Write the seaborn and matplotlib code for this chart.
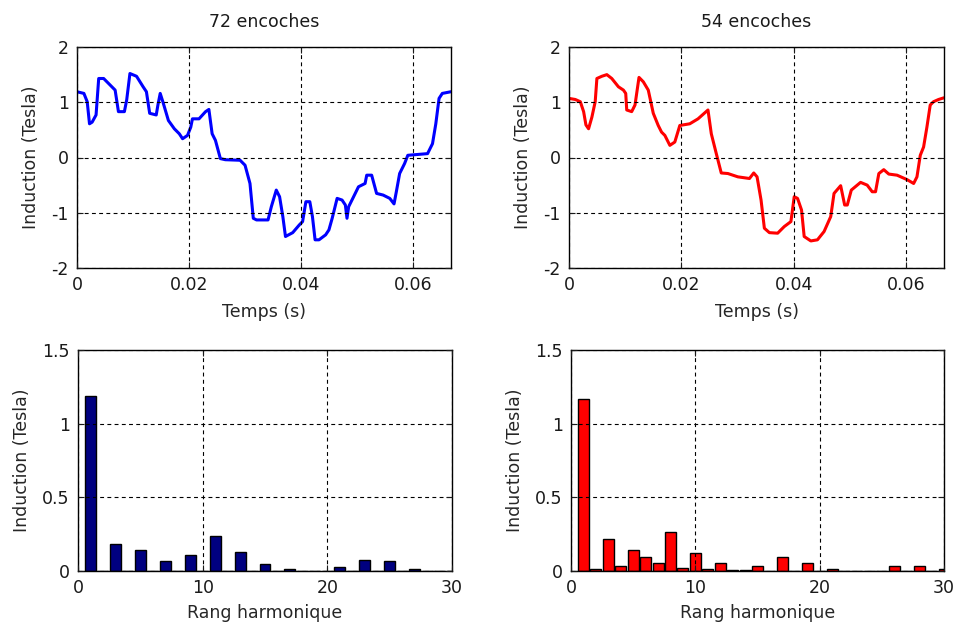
import numpy as np
import matplotlib
matplotlib.use("Agg")
import matplotlib.pyplot as plt
import seaborn as sns

# ---------------- data ----------------
t72 = [0.0, 0.00123, 0.00182, 0.00223, 0.00270, 0.00340, 0.00387, 0.00475, 0.00563, 0.00680,
       0.00739, 0.00845, 0.00886, 0.00944, 0.01062, 0.01179, 0.01238, 0.01296, 0.01413, 0.01443,
       0.01484, 0.01531, 0.01630, 0.01736, 0.01824, 0.01883, 0.01971, 0.02029, 0.02059, 0.02176,
       0.02293, 0.02352, 0.02410, 0.02469, 0.02557, 0.02645, 0.02909, 0.02997, 0.03085, 0.03144,
       0.03202, 0.03407, 0.03466, 0.03554, 0.03613, 0.03671, 0.03718, 0.03847, 0.03965, 0.04023,
       0.04082, 0.04152, 0.04199, 0.04246, 0.04316, 0.04434, 0.04493, 0.04551, 0.04639, 0.04727,
       0.04786, 0.04815, 0.04845, 0.04933, 0.05020, 0.05138, 0.05167, 0.05255, 0.05343, 0.05460,
       0.05578, 0.05654, 0.05695, 0.05754, 0.05842, 0.05900, 0.06252, 0.06340, 0.06399, 0.06457,
       0.06515, 0.06667]
b72 = [1.19, 1.16, 1.01, 0.61, 0.64, 0.77, 1.43, 1.43, 1.34, 1.22,
       0.83, 0.83, 1.04, 1.52, 1.47, 1.28, 1.19, 0.80, 0.77, 0.95,
       1.16, 1.01, 0.67, 0.52, 0.43, 0.34, 0.40, 0.55, 0.70, 0.70,
       0.83, 0.87, 0.43, 0.31, -0.02, -0.04, -0.05, -0.14, -0.47, -1.10,
       -1.13, -1.13, -0.89, -0.59, -0.71, -1.07, -1.43, -1.36, -1.22, -1.16,
       -0.80, -0.80, -1.07, -1.49, -1.49, -1.40, -1.31, -1.10, -0.74, -0.77,
       -0.86, -1.10, -0.89, -0.71, -0.53, -0.47, -0.32, -0.32, -0.65, -0.68,
       -0.74, -0.84, -0.62, -0.29, -0.11, 0.04, 0.07, 0.25, 0.61, 1.07,
       1.16, 1.19]

t54 = [0.0, 0.00112, 0.00201, 0.00260, 0.00301, 0.00348, 0.00407, 0.00466, 0.00496, 0.00584,
       0.00673, 0.00761, 0.00879, 0.00968, 0.01009, 0.01027, 0.01115, 0.01174, 0.01245, 0.01322,
       0.01410, 0.01499, 0.01587, 0.01646, 0.01705, 0.01794, 0.01882, 0.01971, 0.02148, 0.02295,
       0.02472, 0.02531, 0.02620, 0.02708, 0.02826, 0.03003, 0.03210, 0.03286, 0.03345, 0.03416,
       0.03475, 0.03564, 0.03711, 0.03829, 0.03947, 0.04006, 0.04065, 0.04136, 0.04183, 0.04301,
       0.04419, 0.04537, 0.04655, 0.04714, 0.04832, 0.04903, 0.04950, 0.05021, 0.05186, 0.05304,
       0.05393, 0.05452, 0.05511, 0.05599, 0.05688, 0.05835, 0.06012, 0.06130, 0.06189, 0.06248,
       0.06307, 0.06366, 0.06425, 0.06484, 0.06573, 0.06667]
b54 = [1.07, 1.05, 1.01, 0.83, 0.59, 0.52, 0.73, 1.01, 1.43, 1.47,
       1.50, 1.43, 1.28, 1.22, 1.16, 0.86, 0.83, 0.95, 1.45, 1.37,
       1.22, 0.80, 0.58, 0.46, 0.40, 0.22, 0.28, 0.58, 0.61, 0.70,
       0.86, 0.43, 0.07, -0.28, -0.29, -0.35, -0.38, -0.28, -0.35, -0.77,
       -1.28, -1.36, -1.37, -1.25, -1.16, -0.71, -0.74, -0.95, -1.43, -1.51,
       -1.49, -1.34, -1.07, -0.65, -0.51, -0.86, -0.86, -0.59, -0.45, -0.50,
       -0.62, -0.62, -0.29, -0.22, -0.30, -0.32, -0.40, -0.47, -0.35, 0.04,
       0.19, 0.55, 0.95, 1.01, 1.05, 1.08]

rangs = list(range(1, 31))
h72 = [1.19, 0.003, 0.186, 0.003, 0.141, 0.003, 0.068, 0.003, 0.111, 0.003,
       0.239, 0.003, 0.132, 0.003, 0.048, 0.003, 0.016, 0.003, 0.003, 0.003,
       0.025, 0.003, 0.077, 0.003, 0.068, 0.003, 0.016, 0.003, 0.003, 0.003]
h54 = [1.166, 0.011, 0.214, 0.032, 0.141, 0.095, 0.055, 0.268, 0.023, 0.120,
       0.011, 0.055, 0.009, 0.009, 0.032, 0.003, 0.095, 0.002, 0.055, 0.003,
       0.011, 0.002, 0.002, 0.002, 0.002, 0.032, 0.002, 0.032, 0.002, 0.011]

titles = ["72 encoches", "54 encoches"]
t_ticks = [0, 0.02, 0.04, 0.06]
t_ticklabels = ["0", "0.02", "0.04", "0.06"]
b_yticks = [-2, -1, 0, 1, 2]
h_xticks = [0, 10, 20, 30]
h_yticks = [0, 0.5, 1, 1.5]
h_yticklabels = ["0", "0.5", "1", "1.5"]

# ---------------- style ----------------
sns.set_style("white")
plt.rcParams["font.family"] = ["DejaVu Sans"]
plt.rcParams["font.size"] = 12.5
plt.rcParams["text.color"] = "#1a1a1a"
plt.rcParams["xtick.color"] = "#1a1a1a"
plt.rcParams["ytick.color"] = "#1a1a1a"

W, H = 955, 626
fig = plt.figure(figsize=(W / 100, H / 100), dpi=100, facecolor="white")

def box(l, r, top, bot):
    return [l / W, (H - bot) / H, (r - l) / W, (bot - top) / H]

ax_tl = fig.add_axes(box(77, 451, 47, 268))
ax_tr = fig.add_axes(box(569, 944, 47, 268))
ax_bl = fig.add_axes(box(78, 452, 350, 571))
ax_br = fig.add_axes(box(571, 944, 350, 571))

def style(ax):
    for s in ax.spines.values():
        s.set_color("black")
        s.set_linewidth(1.0)
    ax.tick_params(direction="in", length=4, width=0.8, pad=6, labelsize=12.5,
                   top=True, right=True, bottom=True, left=True)
    ax.grid(True, color="black", linestyle=(0, (3.5, 3)), linewidth=0.8)
    ax.set_axisbelow(False)

sns.lineplot(x=t72, y=b72, ax=ax_tl, color="#0000ff", linewidth=2.2, estimator=None, sort=False)
sns.lineplot(x=t54, y=b54, ax=ax_tr, color="#ff0000", linewidth=2.2, estimator=None, sort=False)

for ax, ttl in ((ax_tl, titles[0]), (ax_tr, titles[1])):
    ax.set_xlim(0, 0.0667)
    ax.set_ylim(-2, 2)
    ax.set_xticks(t_ticks)
    ax.set_xticklabels(t_ticklabels)
    ax.set_yticks(b_yticks)
    ax.set_yticklabels([str(v) for v in b_yticks])
    ax.set_title(ttl, fontsize=12.5, pad=14.5)
    ax.set_xlabel("Temps (s)", fontsize=12.5, labelpad=6)
    ax.set_ylabel("Induction (Tesla)", fontsize=12.5, labelpad=8)
    style(ax)

sns.barplot(x=rangs, y=h72, ax=ax_bl, native_scale=True, color="#000080", saturation=1,
            edgecolor="black", linewidth=1.0, width=0.88)
sns.barplot(x=rangs, y=h54, ax=ax_br, native_scale=True, color="#ff0000", saturation=1,
            edgecolor="black", linewidth=1.0, width=0.88)

for ax in (ax_bl, ax_br):
    ax.set_xlim(0, 30)
    ax.set_ylim(0, 1.5)
    ax.set_xticks(h_xticks)
    ax.set_xticklabels([str(v) for v in h_xticks])
    ax.set_yticks(h_yticks)
    ax.set_yticklabels(h_yticklabels)
    ax.set_xlabel("Rang harmonique", fontsize=12.5, labelpad=5)
    ax.set_ylabel("Induction (Tesla)", fontsize=12.5, labelpad=8)
    style(ax)

fig.savefig("out.png", dpi=100, facecolor="white")
